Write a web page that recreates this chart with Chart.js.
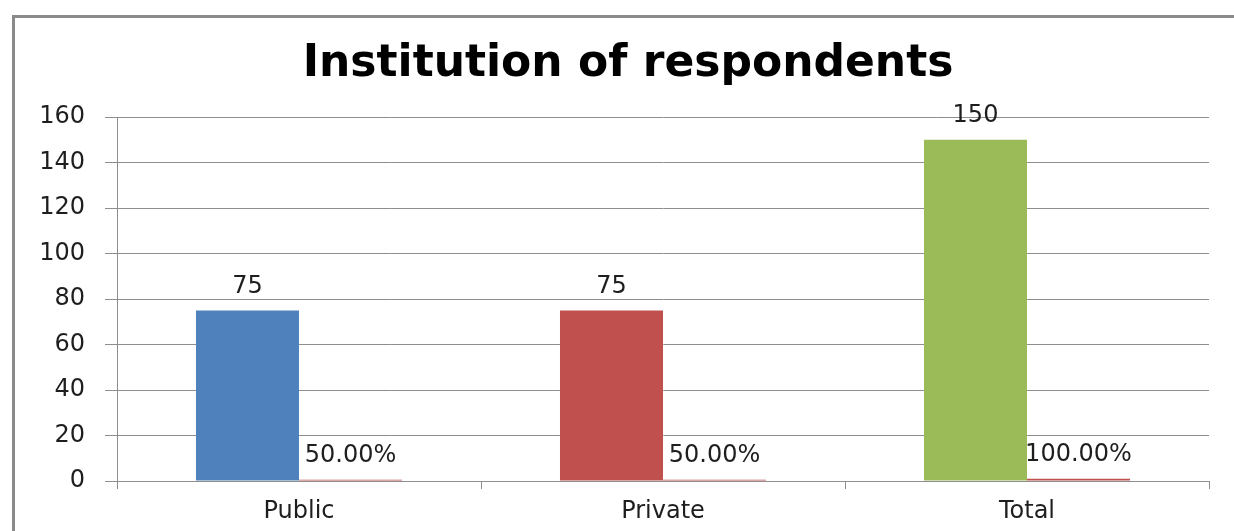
<!DOCTYPE html>
<html>
<head>
<meta charset="utf-8">
<title>Institution of respondents</title>
<script src="https://cdn.jsdelivr.net/npm/chart.js@4/dist/chart.umd.min.js"></script>
<style>
    html, body { margin: 0; padding: 0; background: #fff; }
    #wrap { position: relative; width: 1234px; height: 531px; }
</style>
</head>
<body>
<div id="wrap"><canvas id="institutionChart"></canvas></div>
<script>
// Chart data
const categories = ['Public', 'Private', 'Total'];
const respondents = [75, 75, 150];
const shares = [0.5, 0.5, 1.0];
const barColors = ['#4F81BD', '#C0504D', '#9BBB59'];
const shareColor = '#C0504D';
const chartTitle = 'Institution of respondents';
const yMin = 0;
const yMax = 160;
const yStep = 20;

const gridColor = '#8e8e8e';
const textColor = '#1e1e1e';
const fontFamily = "'DejaVu Sans', Verdana, sans-serif";

// outer frame (cut off at the right and bottom, like the original screenshot)
const framePlugin = {
    id: 'frame',
    beforeDraw(chart) {
        const ctx = chart.ctx;
        ctx.save();
        ctx.strokeStyle = '#8a8a8a';
        ctx.lineWidth = 3;
        ctx.strokeRect(13.5, 16.5, chart.width + 40, chart.height + 40);
        ctx.restore();
    }
};

// title, centred like the original (slightly left of the plot centre)
const titlePlugin = {
    id: 'sheetTitle',
    afterDraw(chart) {
        const ctx = chart.ctx;
        ctx.save();
        ctx.font = `bold 44px ${fontFamily}`;
        ctx.fillStyle = '#000';
        ctx.textAlign = 'center';
        ctx.textBaseline = 'alphabetic';
        ctx.fillText(chartTitle, 628, 76);
        ctx.restore();
    }
};

// value labels above every bar
const valueLabels = {
    id: 'valueLabels',
    afterDatasetsDraw(chart) {
        const ctx = chart.ctx;
        ctx.save();
        ctx.font = `24px ${fontFamily}`;
        ctx.fillStyle = textColor;
        ctx.textAlign = 'center';
        ctx.textBaseline = 'middle';
        chart.data.datasets.forEach((dataset, i) => {
            const meta = chart.getDatasetMeta(i);
            meta.data.forEach((bar, j) => {
                const value = dataset.data[j];
                const text = i === 1 ? (value * 100).toFixed(2) + '%' : String(value);
                ctx.fillText(text, bar.x, bar.y - 24);
            });
        });
        ctx.restore();
    }
};

const ctx = document.getElementById('institutionChart').getContext('2d');
const chart = new Chart(ctx, {
    type: 'bar',
    data: {
        labels: categories,
        datasets: [{
            label: 'Respondents',
            data: respondents,
            backgroundColor: barColors,
            borderWidth: 0
        }, {
            label: 'Percentage',
            data: shares,
            backgroundColor: shareColor,
            borderWidth: 0
        }]
    },
    options: {
        responsive: true,
        maintainAspectRatio: false,
        animation: false,
        categoryPercentage: 0.566,
        barPercentage: 1,
        layout: {
            padding: { left: 0, right: 25, top: 117, bottom: 0 }
        },
        plugins: {
            legend: { display: false },
            tooltip: { enabled: false },
            title: { display: false }
        },
        scales: {
            x: {
                grid: {
                    offset: true,
                    drawOnChartArea: false,
                    drawTicks: true,
                    tickLength: 8,
                    color: gridColor
                },
                border: { color: gridColor },
                ticks: {
                    color: textColor,
                    padding: 8,
                    font: { family: fontFamily, size: 24 }
                },
                afterFit: (scale) => { scale.height = 50; }
            },
            y: {
                min: yMin,
                max: yMax,
                grid: {
                    color: gridColor,
                    tickLength: 12
                },
                border: { color: gridColor },
                ticks: {
                    stepSize: yStep,
                    color: textColor,
                    padding: 20,
                    font: { family: fontFamily, size: 24 }
                },
                afterFit: (scale) => { scale.width = 117; }
            }
        }
    },
    plugins: [framePlugin, titlePlugin, valueLabels]
});
</script>
</body>
</html>
